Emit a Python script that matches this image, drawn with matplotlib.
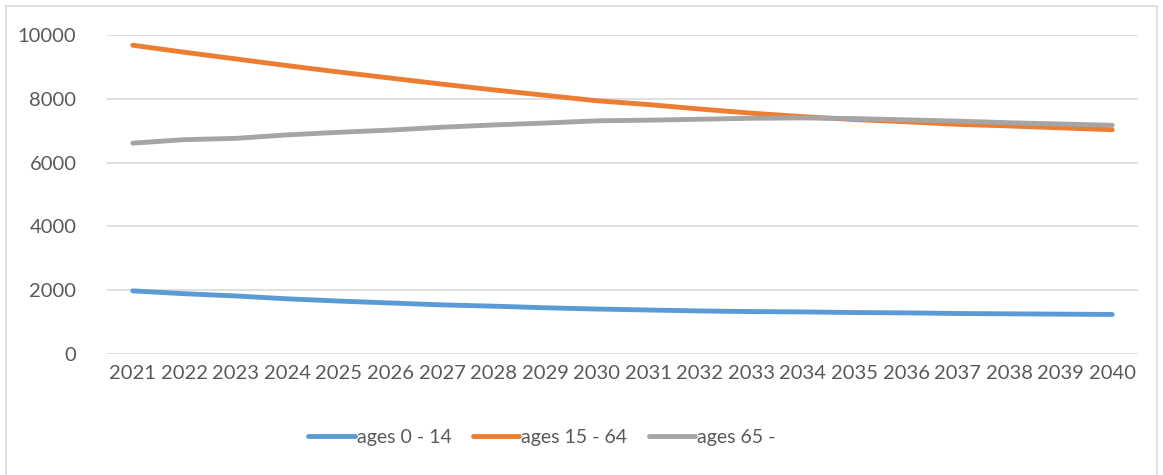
import matplotlib.pyplot as plt
from matplotlib.patches import Rectangle

years = list(range(2021, 2041))
ages_0_14 = [1980, 1890, 1820, 1730, 1660, 1600, 1540, 1500, 1450, 1410,
             1380, 1350, 1330, 1320, 1300, 1290, 1270, 1260, 1250, 1240]
ages_15_64 = [9680, 9460, 9250, 9040, 8840, 8650, 8460, 8280, 8110, 7940,
              7820, 7680, 7550, 7440, 7350, 7280, 7200, 7150, 7090, 7030]
ages_65 = [6610, 6720, 6760, 6870, 6950, 7020, 7110, 7180, 7240, 7310,
           7330, 7360, 7390, 7400, 7380, 7340, 7300, 7250, 7210, 7170]
labels = ["ages 0 - 14", "ages 15 - 64", "ages 65 -"]
colors = ["#5B9BD5", "#ED7D31", "#A5A5A5"]

plt.rcParams['font.family'] = ['Lato', 'DejaVu Sans']
txt = "#595959"

fig = plt.figure(figsize=(11.63, 4.75), dpi=100)
ax = fig.add_axes([0.092, 0.2547, 0.8865, 0.6716])

for vals, lab, c in zip([ages_0_14, ages_15_64, ages_65], labels, colors):
    ax.plot(years, vals, color=c, lw=3.5, label=lab, solid_capstyle='round')

ax.set_xlim(2020.5, 2040.5)
ax.set_ylim(0, 10000)
ax.set_yticks(range(0, 10001, 2000))
ax.set_xticks(years)
ax.grid(axis='y', color="#D9D9D9", lw=1.2)
ax.set_axisbelow(True)
for s in ax.spines.values():
    s.set_visible(False)
ax.tick_params(length=0, labelsize=14.5, labelcolor=txt)
ax.tick_params(axis='y', pad=22)
ax.tick_params(axis='x', pad=8)

# legend row under the axis
fig.legend(loc='center', bbox_to_anchor=(0.466, 0.08), ncol=3, frameon=False,
           fontsize=14, labelcolor=txt, handlelength=2.4, handletextpad=0.1,
           columnspacing=1.1)

fig.patches.append(Rectangle((0.005, -0.01), 0.99, 0.997, transform=fig.transFigure,
                             fill=False, edgecolor="#D9D9D9", lw=1.2))

fig.savefig("out.png", dpi=100)
